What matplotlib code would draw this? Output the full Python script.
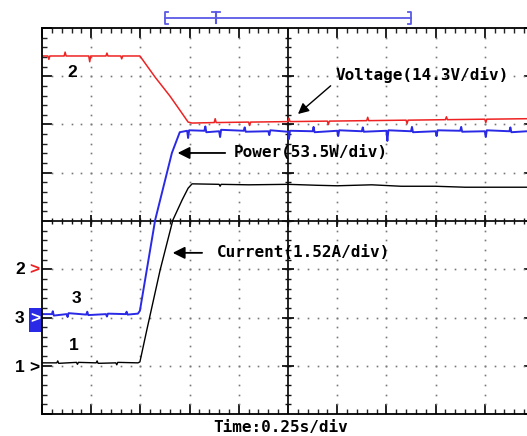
import numpy as np
import matplotlib.pyplot as plt

# Scope capture, all positions in screen divisions (10 x 8 graticule)
# Channel 2 - voltage (red)
volt_t = [0.0, 0.12, 0.14, 0.16, 0.45, 0.47, 0.49, 0.95, 0.97, 0.99, 1.30, 1.32, 1.34,
          1.60, 1.62, 1.64, 1.99, 2.30, 2.60, 2.80, 2.97, 3.05, 3.50, 3.52, 3.54,
          4.20, 4.22, 4.24, 5.00, 5.02, 5.04, 5.80, 5.82, 5.84, 6.60, 6.62, 6.64,
          7.40, 7.42, 7.44, 8.20, 8.22, 8.24, 9.00, 9.02, 9.04, 9.86]
volt_v = [7.42, 7.42, 7.35, 7.42, 7.42, 7.50, 7.42, 7.42, 7.30, 7.42, 7.42, 7.48, 7.42,
          7.42, 7.36, 7.42, 7.42, 6.98, 6.59, 6.30, 6.05, 6.03, 6.04, 6.12, 6.04,
          6.05, 5.98, 6.05, 6.06, 6.13, 6.06, 6.07, 6.00, 6.07, 6.08, 6.15, 6.08,
          6.09, 6.02, 6.09, 6.10, 6.16, 6.10, 6.11, 6.04, 6.11, 6.12]

# Channel 3 - power (blue)
pow_t = [0.0, 0.20, 0.22, 0.24, 0.50, 0.52, 0.54, 0.90, 0.92, 0.94, 1.30, 1.32, 1.34,
         1.70, 1.72, 1.74, 1.95, 1.99, 2.30, 2.64, 2.80, 2.95, 2.97, 2.99,
         3.30, 3.32, 3.34, 3.60, 3.62, 3.64, 4.10, 4.12, 4.14, 4.60, 4.62, 4.64,
         5.00, 5.02, 5.04, 5.50, 5.52, 5.54, 6.00, 6.02, 6.04, 6.50, 6.52, 6.54,
         7.00, 7.02, 7.04, 7.50, 7.52, 7.54, 8.00, 8.02, 8.04, 8.50, 8.52, 8.54,
         9.00, 9.02, 9.04, 9.50, 9.52, 9.54, 9.86]
pow_v = [2.07, 2.07, 2.13, 2.04, 2.07, 2.01, 2.09, 2.06, 2.12, 2.05, 2.07, 2.02, 2.08,
         2.07, 2.12, 2.06, 2.08, 2.14, 4.02, 5.41, 5.84, 5.87, 5.72, 5.88,
         5.87, 5.96, 5.84, 5.86, 5.74, 5.89, 5.87, 5.94, 5.85, 5.86, 5.78, 5.88,
         5.85, 5.70, 5.87, 5.86, 5.95, 5.84, 5.87, 5.76, 5.88, 5.86, 5.94, 5.85,
         5.87, 5.66, 5.88, 5.86, 5.95, 5.84, 5.86, 5.76, 5.88, 5.87, 5.95, 5.85,
         5.86, 5.74, 5.88, 5.86, 5.94, 5.84, 5.86]

# Channel 1 - current (black)
cur_t = [0.0, 0.30, 0.32, 0.34, 0.70, 0.72, 0.74, 1.10, 1.12, 1.14, 1.50, 1.52, 1.54,
         1.95, 1.99, 2.13, 2.40, 2.66, 2.85, 2.97, 3.05, 3.60, 3.62, 3.64,
         4.20, 5.00, 5.60, 6.00, 6.70, 7.30, 8.00, 8.60, 9.86]
cur_v = [1.06, 1.06, 1.10, 1.05, 1.07, 1.03, 1.07, 1.06, 1.10, 1.05, 1.06, 1.02, 1.07,
         1.06, 1.08, 1.74, 2.98, 4.02, 4.44, 4.68, 4.77, 4.76, 4.72, 4.76,
         4.75, 4.76, 4.74, 4.73, 4.75, 4.72, 4.72, 4.70, 4.70]

# Ground markers on the left edge
chan_labels = ['2', '3', '1']
chan_levels = [3.0, 1.97, 0.97]

RED = '#ee2222'
BLUE = '#2a2ae6'

fig = plt.figure(figsize=(5.27, 4.36), dpi=100)
ax = fig.add_axes([42 / 527, 1 - 414 / 436, 492 / 527, 386 / 436])
ax.set_xlim(0, 10)
ax.set_ylim(0, 8)

# Graticule
for s in ax.spines.values():
    s.set_linewidth(1.3)
ax.set_xticks(np.arange(0, 11, 1))
ax.set_xticks(np.arange(0, 10.01, 0.2), minor=True)
ax.set_yticks(np.arange(0, 9, 1))
ax.set_yticks(np.arange(0, 8.01, 0.2), minor=True)
ax.tick_params(which='both', direction='in', top=True, right=True,
               labelbottom=False, labelleft=False, color='#222222')
ax.tick_params(which='major', length=7, width=1.4)
ax.tick_params(which='minor', length=3.5, width=1.0)

dots_v = np.arange(0.2, 8.0, 0.2)
dots_h = np.arange(0.2, 10.0, 0.2)
for gx in [1, 2, 3, 4, 6, 7, 8, 9]:
    ax.plot(np.full(dots_v.size, gx), dots_v, ls='none', marker='s', ms=1.2,
            color='#777777', mew=0)
for gy in [1, 2, 3, 5, 6, 7]:
    ax.plot(dots_h, np.full(dots_h.size, gy), ls='none', marker='s', ms=1.2,
            color='#777777', mew=0)

ax.axhline(4, color='#111111', lw=1.3)
ax.axvline(5, color='#111111', lw=1.3)
ax.plot(dots_h, np.full(dots_h.size, 4), ls='none', marker='|', ms=5, mew=1.0, color='#111111')
ax.plot(np.arange(1, 10), np.full(9, 4), ls='none', marker='|', ms=9, mew=1.3, color='#111111')
ax.plot(np.full(dots_v.size, 5), dots_v, ls='none', marker='_', ms=5, mew=1.0, color='#111111')
ax.plot(np.full(7, 5), np.arange(1, 8), ls='none', marker='_', ms=9, mew=1.3, color='#111111')

# Traces
ax.plot(volt_t, volt_v, color=RED, lw=1.1)
ax.plot(cur_t, cur_v, color='black', lw=1.0)
ax.plot(pow_t, pow_v, color=BLUE, lw=1.4)

# Trace numbers
lab_font = dict(family='Liberation Sans', weight='bold', fontsize=12.5, ha='center', va='center')
ax.text(0.61, 7.07, '2', **lab_font)
ax.text(0.71, 2.40, '3', **lab_font)
ax.text(0.65, 1.41, '1', **lab_font)

# Ground markers
for lab, lvl in zip(chan_labels, chan_levels):
    ax.text(-0.45, lvl, lab, clip_on=False, **lab_font)
    if lab == '3':
        ax.add_patch(plt.Rectangle((-0.27, lvl - 0.27), 0.27, 0.5, color=BLUE,
                                   clip_on=False, lw=0))
        ax.text(-0.14, lvl, '>', color='white', clip_on=False, **lab_font)
    else:
        ax.text(-0.16, lvl, '>', color=RED if lab == '2' else 'black',
                clip_on=False, **lab_font)

# Annotations
mono = dict(family='DejaVu Sans Mono', weight='bold', fontsize=11.5, va='center', ha='left')
ax.text(5.96, 7.03, 'Voltage(14.3V/div)', **mono)
ax.annotate('', xy=(5.16, 6.18), xytext=(5.91, 6.84),
            arrowprops=dict(arrowstyle='-|>', mutation_scale=16, lw=1.0, color='black'))
ax.text(3.90, 5.41, 'Power(53.5W/div)', **mono)
ax.annotate('', xy=(2.70, 5.41), xytext=(3.78, 5.41),
            arrowprops=dict(arrowstyle='-|>', mutation_scale=18, lw=1.3, color='black'))
ax.text(3.56, 3.34, 'Current(1.52A/div)', **mono)
ax.annotate('', xy=(2.60, 3.34), xytext=(3.31, 3.34),
            arrowprops=dict(arrowstyle='-|>', mutation_scale=18, lw=1.3, color='black'))

fig.text(281 / 527, 1 - 427 / 436, 'Time:0.25s/div', family='DejaVu Sans Mono',
         weight='bold', fontsize=11.5, ha='center', va='center')

# Memory window bracket above the screen
BR = '#5a5ae6'
ax.plot([2.5, 7.5], [8.21, 8.21], color=BR, lw=1.3, clip_on=False)
ax.plot([2.56, 2.5, 2.5, 2.56], [8.34, 8.34, 8.08, 8.08], color=BR, lw=1.3, clip_on=False)
ax.plot([7.44, 7.5, 7.5, 7.44], [8.34, 8.34, 8.08, 8.08], color=BR, lw=1.3, clip_on=False)
ax.plot([3.46, 3.62], [8.33, 8.33], color=BR, lw=1.3, clip_on=False)
ax.plot([3.54, 3.54], [8.33, 8.10], color=BR, lw=1.5, clip_on=False)

fig.savefig('out.png', dpi=100)
